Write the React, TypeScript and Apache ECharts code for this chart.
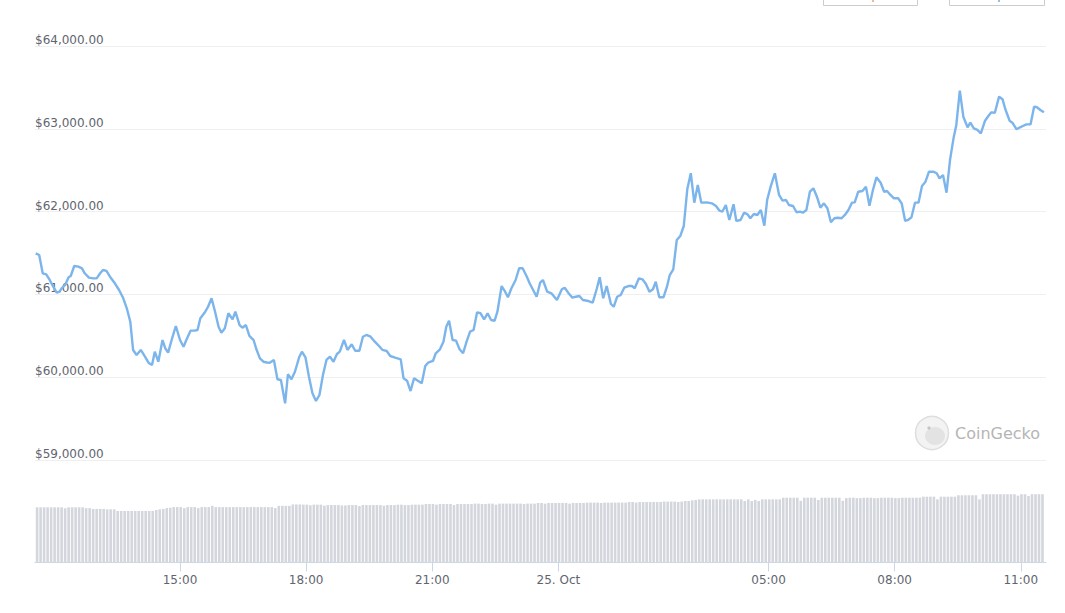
import React, { useEffect, useRef } from "react";
import * as echarts from "echarts";

// minutes after the window start (24 Oct, 11:33)
const minutes = [
  1,6,11,16,21,26,31,35,38,43,48,51,56,62,67,71,77,83,88,93,97,102,107,114,120,126,131,136,140,145,151,157,162,167,171,176,182,186,190,195,201,207,212,216,222,228,232,236,243,247,
  252,257,262,266,271,276,282,286,292,296,301,306,312,316,321,326,331,335,341,346,351,357,361,366,371,377,381,386,391,396,401,406,411,416,421,426,431,435,441,446,452,457,463,468,473,479,485,492,
  496,502,507,514,522,526,531,536,541,547,552,557,561,568,572,578,583,587,591,596,601,606,611,616,621,626,631,636,641,646,651,656,660,666,671,675,680,686,691,696,702,706,711,716,721,725,731,737,745,752,
  756,761,767,772,777,782,790,796,802,806,811,816,822,826,831,836,841,847,852,856,862,867,872,877,882,886,891,897,902,906,911,916,921,926,931,936,941,946,951,959,966,972,977,981,986,991,997,1001,1007,1012,
  1017,1021,1026,1031,1036,1041,1045,1050,1056,1062,1067,1072,1076,1082,1087,1092,1096,1101,1106,1111,1116,1121,1126,1131,1136,1141,1146,1151,1156,1161,1166,1170,1175,1181,1186,1191,1196,1201,1207,1212,
  1216,1221,1226,1232,1237,1242,1246,1251,1256,1261,1266,1271,1276,1282,1287,1291,1296,1301,1306,1311,1315,1320,1325,1331,1335,1340,1345,1350,1356,1361,1365,1370,1376,1381,1385,1391,1395,1401,1406,1410,
  1415,1421,1426,1430,1435,1440,
];

const prices = [
  61496,61476,61255,61243,61174,61093,61021,61033,61074,61114,61207,61222,61343,61335,61315,61255,61202,61194,61194,61255,61295,61283,61214,61134,61053,60953,60832,60670,60329,60268,60329,60248,60175,60147,60308,60187,60449,60349,60296,60449,60618,60449,60368,60449,60562,60562,60570,60711,60791,60851,
  60953,60791,60610,60538,60591,60772,60699,60791,60630,60598,60630,60498,60449,60337,60228,60187,60178,60175,60208,59975,59966,59685,60035,59975,60066,60240,60308,60240,60006,59806,59713,59785,60027,60208,60248,60187,60280,60308,60449,60329,60397,60320,60320,60489,60510,60489,60429,60368,
  60329,60316,60256,60236,60216,59987,59958,59833,59987,59954,59926,60135,60175,60196,60289,60337,60429,60610,60682,60449,60441,60337,60289,60429,60550,60570,60784,60772,60699,60772,60691,60682,60791,61101,61033,60965,61074,61174,61315,61315,61214,61134,61053,60972,61141,61174,61033,61013,60932,61062,
  61081,61021,60960,60972,60981,60932,60920,60900,61074,61207,60953,61101,60884,60851,60972,60993,61081,61101,61101,61074,61194,61182,61126,61033,61062,61153,60965,60965,61093,61234,61303,61657,61705,61826,62269,62463,62108,62321,62108,62112,62100,62068,62011,61999,62080,61899,62088,61887,61899,61987,
  61967,61919,61971,61959,62019,61830,62140,62301,62463,62201,62132,62140,62080,62068,61992,61999,61987,62019,62240,62281,62180,62047,62100,62040,61871,61919,61926,61919,61959,62019,62108,62112,62240,62249,62301,62071,62261,62414,62349,62240,
  62249,62201,62161,62161,62100,61887,61899,61931,62108,62108,62309,62361,62482,62482,62463,62402,62442,62228,62623,62885,63046,63460,63146,63018,63074,63006,62986,62946,63098,63158,63199,63194,63388,63356,63236,63098,63074,62994,63018,63034,
  63054,63054,63267,63260,63227,63199,
];

// 5-minute volume bars (billions USD)
const volumes = [
  27.0,27.0,27.0,27.0,27.0,27.0,27.0,27.0,26.5,27.0,27.0,27.0,27.0,27.0,26.6,26.6,26.2,26.2,26.2,26.2,
  26.0,26.0,26.0,25.2,25.2,25.2,25.2,25.2,25.2,25.2,25.2,25.2,25.2,25.2,25.7,26.0,26.2,26.6,26.8,27.1,
  27.1,27.1,26.6,27.1,27.1,27.1,26.6,27.1,27.1,27.1,27.7,27.1,27.1,27.1,27.1,27.1,27.1,27.1,27.1,27.1,
  27.1,27.1,27.1,27.1,27.1,27.1,27.1,27.1,26.6,27.7,27.7,27.7,27.7,28.4,28.4,28.4,
  28.3,28.3,28.0,28.3,28.3,28.3,27.8,28.1,28.1,28.1,28.1,27.9,27.9,28.1,28.1,28.1,27.6,28.1,28.1,28.1,
  28.1,28.1,28.1,27.8,28.1,28.1,28.1,28.3,28.3,28.1,28.1,28.3,28.3,
  28.3,28.3,28.6,28.6,28.6,28.3,28.6,28.6,28.6,28.6,28.1,28.6,28.6,28.6,28.6,28.6,28.8,28.8,28.6,28.6,
  28.8,28.8,28.3,28.8,28.8,28.8,28.8,28.8,28.8,28.8,28.6,28.8,28.8,28.8,29.1,29.1,28.8,29.1,29.1,29.1,
  29.1,29.1,29.1,28.8,29.1,29.1,29.1,29.1,29.3,29.3,29.3,29.3,29.1,29.3,29.3,29.3,29.3,29.3,29.3,29.3,
  29.6,29.6,29.3,29.6,29.6,29.6,29.6,29.6,29.6,29.6,29.8,29.8,29.8,29.8,29.6,29.8,30.1,30.1,30.4,30.6,
  30.9,30.9,30.9,30.9,30.9,30.9,30.9,30.9,30.9,30.9,30.9,30.9,30.9,
  30.1,30.9,30.1,30.6,30.1,30.9,30.9,30.9,30.9,30.9,30.9,
  31.7,31.7,31.7,31.7,31.7,30.2,31.7,31.7,31.7,31.7,30.6,31.7,31.7,31.7,31.7,31.7,31.7,30.2,
  31.5,31.7,31.7,31.5,31.5,31.7,31.7,31.7,31.5,31.5,31.7,31.7,31.7,31.7,31.5,31.5,
  31.7,31.7,31.7,31.7,31.7,31.7,32.2,32.2,32.2,32.2,30.9,32.2,32.2,32.2,32.2,32.2,
  32.9,32.9,32.9,32.9,32.9,32.9,30.9,33.4,33.4,33.4,33.4,33.4,33.4,33.4,33.4,33.4,33.4,
  32.7,33.4,33.4,32.5,33.4,33.4,33.4,33.4,
];

const tickMinutes = [207, 387, 567, 747, 1047, 1227, 1407];
const tickLabels = ["15:00", "18:00", "21:00", "25. Oct", "05:00", "08:00", "11:00"];

const FONT = "DejaVu Sans";

export default function App() {
  const ref = useRef<HTMLDivElement>(null);

  useEffect(() => {
    if (!ref.current) return;
    const chart = echarts.init(ref.current, undefined, { renderer: "svg" });
    const n = Math.min(minutes.length, prices.length);
    const lineData = [];
    for (let i = 0; i < n; i++) lineData.push([minutes[i], prices[i]]);
    const volData = volumes.map((v, i) => [3 + i * 5, v]);

    chart.setOption({
      animation: false,
      backgroundColor: "#ffffff",
      textStyle: { fontFamily: FONT },
      grid: [
        { left: 35, right: 19, top: 46, height: 414 },
        { left: 35, right: 19, top: 493, height: 69.5 },
      ],
      xAxis: [
        {
          type: "value",
          gridIndex: 0,
          min: 0,
          max: 1443,
          show: false,
          splitLine: { show: false },
        },
        {
          type: "value",
          gridIndex: 1,
          min: 0,
          max: 1443,
          splitLine: { show: false },
          axisLine: { show: true, lineStyle: { color: "#ccd6eb", width: 1 } },
          axisTick: {
            show: true,
            customValues: tickMinutes,
            length: 9,
            lineStyle: { color: "#ccd6eb" },
          },
          axisLabel: {
            customValues: tickMinutes,
            color: "#5f6570",
            fontSize: 12,
            fontFamily: FONT,
            margin: 11,
            formatter: (v: number) => {
              const k = tickMinutes.indexOf(Math.round(v));
              return k >= 0 ? tickLabels[k] : "";
            },
          },
        },
      ],
      yAxis: [
        {
          type: "value",
          gridIndex: 0,
          min: 59000,
          max: 64000,
          interval: 1000,
          axisLine: { show: false },
          axisTick: { show: false },
          splitLine: { show: true, lineStyle: { color: "#efefef", width: 1 } },
          axisLabel: {
            inside: true,
            margin: 0,
            align: "left",
            verticalAlign: "bottom",
            padding: [0, 0, 0, 0],
            color: "#5f6570",
            fontSize: 12,
            fontFamily: FONT,
            formatter: (v: number) =>
              "$" + v.toLocaleString("en-US", { minimumFractionDigits: 2, maximumFractionDigits: 2 }),
          },
          z: 0,
        },
        {
          type: "value",
          gridIndex: 1,
          min: 0,
          max: 34,
          show: false,
          splitLine: { show: false },
        },
      ],
      graphic: [
        {
          type: "rect",
          shape: { x: 823.5, y: -20, width: 94, height: 25.5 },
          style: { fill: "#ffffff", stroke: "#cccccc", lineWidth: 1 },
        },
        {
          type: "rect",
          shape: { x: 949.5, y: -20, width: 95, height: 25.5 },
          style: { fill: "#ffffff", stroke: "#cccccc", lineWidth: 1 },
        },
        {
          type: "line",
          shape: { x1: 873, y1: 0, x2: 873, y2: 2 },
          style: { stroke: "#e8a36a", lineWidth: 1.5 },
        },
        {
          type: "line",
          shape: { x1: 999, y1: 0, x2: 999, y2: 2 },
          style: { stroke: "#7fa7d8", lineWidth: 1.5 },
        },
        {
          type: "circle",
          shape: { cx: 932, cy: 433, r: 16.5 },
          style: { fill: "#f3f3f3", stroke: "#dedede", lineWidth: 1.5 },
        },
        {
          type: "ellipse",
          shape: { cx: 935, cy: 436, rx: 10, ry: 9 },
          style: { fill: "#e3e3e3" },
        },
        {
          type: "circle",
          shape: { cx: 929, cy: 428, r: 1.6 },
          style: { fill: "#c4c4c4" },
        },
        {
          type: "text",
          x: 955,
          y: 433,
          style: {
            text: "CoinGecko",
            fill: "#b5b5b5",
            font: `16px "${FONT}"`,
            textVerticalAlign: "middle",
            verticalAlign: "middle",
          },
        },
      ],
      series: [
        {
          type: "line",
          xAxisIndex: 0,
          yAxisIndex: 0,
          data: lineData,
          showSymbol: false,
          symbol: "none",
          smooth: false,
          lineStyle: { color: "#7cb5ec", width: 2.4 },
          z: 3,
        },
        {
          type: "bar",
          xAxisIndex: 1,
          yAxisIndex: 1,
          data: volData,
          barWidth: 2.6,
          itemStyle: { color: "#d3d6dc" },
        },
      ],
    });

    return () => chart.dispose();
  }, []);

  return (
    <div
      ref={ref}
      style={{ position: "fixed", left: 0, top: 0, width: 1065, height: 613 }}
    />
  );
}
